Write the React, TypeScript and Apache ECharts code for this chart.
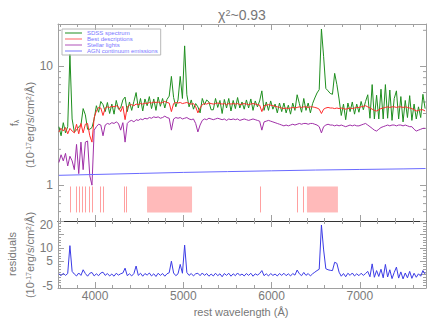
import React, { useEffect, useRef } from "react";
import * as echarts from "echarts";

// ---------- data ----------
const chartTitle = "χ²~0.93";
const waveStart = 3590;
const waveStep = 25;

const sdssFlux = [
  3.1, 2.6, 3.35, 2.75, 3.1, 12.5, 3.6, 2.8, 2.9, 3.1,
  3.2, 4.4, 3.9, 2.95, 2.95, 3.05, 3.6, 4.65, 4.1, 5.05,
  4.75, 4.15, 4.95, 4.0, 4.8, 3.95, 5.15, 4.35, 4.45, 5.2,
  5.5, 4.15, 5.0, 4.25, 5.05, 6.0, 4.45, 5.35, 4.2, 5.3,
  4.65, 5.55, 4.4, 5.3, 4.25, 5.5, 4.6, 5.35, 4.45, 5.25,
  5.6, 8.2, 5.45, 4.55, 5.2, 8.2, 5.35, 14.8, 5.75, 4.55,
  5.2, 4.35, 4.85, 4.55, 4.05, 5.35, 4.75, 5.2, 5.0, 4.3,
  4.3, 5.35, 4.5, 5.15, 4.0, 5.25, 4.45, 5.35, 4.2, 5.15,
  4.4, 5.45, 4.45, 5.0, 4.35, 5.2, 4.45, 5.3, 4.25, 5.1,
  4.55, 5.1, 6.2, 4.25, 5.0, 4.25, 5.1, 4.35, 4.8, 4.05,
  4.9, 4.15, 4.9, 4.05, 4.7, 3.95, 4.9, 4.25, 5.75, 4.85,
  4.1, 5.35, 4.25, 4.9, 4.05, 4.85, 5.4, 5.95, 6.35, 20.5,
  12.0, 6.5, 6.2, 5.9, 5.8, 8.7, 7.0, 5.3, 3.85, 4.8,
  3.55, 4.9, 4.15, 5.0, 3.95, 4.8, 4.1, 5.05, 4.3, 5.05,
  5.75, 3.65, 7.0, 3.6, 5.7, 3.6, 6.4, 3.6, 7.0, 3.65,
  6.3, 3.5, 5.35, 6.2, 3.6, 5.55, 3.4, 5.15, 3.7, 5.65,
  3.5, 4.8, 3.6, 4.55, 3.7, 5.8, 4.4,
];

const modelFlux = [
  2.8, 3.0, 2.85, 3.05, 2.7, 3.0, 2.85, 2.75, 3.25, 2.7,
  3.3, 2.75, 3.25, 3.3, 2.6, 2.3, 3.7, 4.2, 4.5, 4.45,
  3.85, 4.45, 4.55, 4.5, 4.6, 4.55, 4.65, 4.55, 4.15, 4.6,
  3.55, 4.55, 4.7, 4.75, 4.65, 4.8, 4.75, 4.85, 4.8, 4.9,
  4.85, 4.95, 4.9, 5.0, 4.95, 5.0, 4.9, 4.95, 5.05, 4.95,
  4.9, 4.15, 4.85, 4.95, 4.9, 4.95, 4.85, 4.9, 4.95, 4.85,
  4.8, 4.85, 4.55, 4.05, 4.45, 4.75, 4.85, 4.8, 4.9, 4.85,
  4.8, 4.85, 4.9, 4.85, 4.8, 4.85, 4.75, 4.85, 4.8, 4.85,
  4.8, 4.85, 4.75, 4.8, 4.85, 4.8, 4.75, 4.8, 4.85, 4.8,
  4.75, 4.7, 4.15, 4.65, 4.7, 4.75, 4.7, 4.65, 4.6, 4.55,
  4.5, 4.45, 4.4, 4.45, 4.4, 4.45, 4.5, 4.45, 4.5, 4.55,
  4.5, 4.55, 4.55, 4.5, 4.55, 4.55, 4.5, 4.45, 4.35, 4.0,
  4.35, 4.45, 4.5, 4.45, 4.45, 4.4, 4.45, 4.4, 4.45, 4.4,
  4.35, 4.4, 4.45, 4.4, 4.45, 4.5, 4.5, 4.55, 4.6, 4.65,
  4.55, 4.45, 4.35, 4.25, 4.2, 4.3, 4.4, 4.45, 4.5, 4.55,
  4.5, 4.55, 4.55, 4.5, 4.55, 4.55, 4.5, 4.55, 4.5, 4.45,
  4.4, 4.3, 4.2, 4.25, 4.3, 4.3, 4.2,
];

const stellarFlux = [
  1.55, 1.8, 1.6, 1.85, 1.45, 1.75, 1.6, 1.35, 2.2, 1.25,
  2.3, 1.35, 2.3, 2.35, 1.2, 1.0, 2.9, 3.1, 3.25, 3.2,
  2.6, 3.2, 3.3, 3.25, 3.35, 3.3, 3.4, 3.3, 2.9, 3.35,
  2.3, 3.3, 3.45, 3.5, 3.4, 3.55, 3.5, 3.6, 3.55, 3.65,
  3.6, 3.7, 3.65, 3.75, 3.7, 3.75, 3.65, 3.7, 3.8, 3.7,
  3.65, 2.9, 3.6, 3.7, 3.65, 3.7, 3.6, 3.65, 3.7, 3.6,
  3.55, 3.6, 3.3, 2.8, 3.2, 3.5, 3.6, 3.55, 3.65, 3.6,
  3.55, 3.6, 3.65, 3.6, 3.55, 3.6, 3.5, 3.6, 3.55, 3.6,
  3.55, 3.6, 3.5, 3.55, 3.6, 3.55, 3.5, 3.55, 3.6, 3.55,
  3.5, 3.45, 2.9, 3.4, 3.45, 3.5, 3.45, 3.4, 3.35, 3.3,
  3.25, 3.2, 3.15, 3.2, 3.15, 3.2, 3.25, 3.2, 3.25, 3.3,
  3.25, 3.3, 3.3, 3.25, 3.3, 3.3, 3.25, 3.2, 3.1, 2.75,
  3.1, 3.2, 3.25, 3.2, 3.2, 3.15, 3.2, 3.15, 3.2, 3.15,
  3.1, 3.15, 3.2, 3.15, 3.2, 3.15, 3.15, 3.2, 3.25, 3.3,
  3.2, 3.1, 3.0, 2.9, 2.85, 2.95, 3.05, 3.1, 3.15, 3.2,
  3.15, 3.2, 3.2, 3.15, 3.2, 3.2, 3.15, 3.2, 3.15, 3.1,
  3.1, 2.95, 2.85, 2.9, 2.95, 3.0, 3.0,
];

const agnWave = [3590, 4000, 4500, 5000, 5500, 6000, 6500, 7000, 7500, 7745];
const agnFlux = [1.21, 1.23, 1.255, 1.28, 1.3, 1.32, 1.34, 1.355, 1.37, 1.38];

const residuals = [
  0.3, -0.4, 0.5, -0.3, 0.4, 10.8, 1.2, 0.2, -0.5, 0.6,
  -0.3, 1.8, 0.4, -0.6, 0.5, 0.8, -0.5, 0.3, -0.4, 0.6,
  0.9, -0.3, 0.4, -0.5, 0.2, -0.6, 0.5, -0.2, 0.3, 0.6,
  2.4, -0.4, 0.3, -0.5, 0.4, 3.2, -0.3, 0.5, -0.6, 0.4,
  -0.2, 0.6, -0.5, 0.3, -0.7, 0.5, -0.3, 0.4, -0.6, 0.3,
  0.7, 5.0, 0.6, -0.4, 0.3, 3.8, 0.5, 11.0, 0.8, -0.3,
  0.4, -0.5, 0.3, 0.5, -0.4, 0.6, -0.3, 0.4, -0.6, 0.2,
  -0.5, 0.5, -0.4, 0.3, -0.8, 0.4, -0.3, 0.5, -0.6, 0.3,
  -0.4, 0.6, -0.3, 0.2, -0.5, 0.4, -0.3, 0.5, -0.6, 0.3,
  -0.2, 0.4, 1.5, -0.4, 0.3, -0.5, 0.4, -0.3, 0.2, -0.5,
  0.4, -0.3, 0.5, -0.4, 0.3, -0.5, 0.4, -0.2, 1.7, 0.3,
  -0.4, 0.8, -0.3, 0.4, -0.5, 0.3, 0.9, 1.5, 2.0, 18.5,
  9.2, 2.2, 1.8, 1.6, 1.5, 4.6, 4.2, 0.9, -0.6, 0.4,
  -0.8, 0.5, -0.3, 0.6, -0.5, 0.3, -0.4, 0.5, -0.3, 0.4,
  1.2, -0.8, 4.0, -1.0, 1.5, -0.7, 2.0, -1.2, 3.8, -0.9,
  1.8, -1.5, 0.8, 2.8, -1.3, 1.0, -1.6, 0.6, -1.2, 1.2,
  -1.4, 0.5, -1.0, 0.3, -0.6, 1.5, 0.2,
];

const maskLines = [3720, 3788, 3819, 3853, 3890, 3929, 3963, 4060, 4094, 4332, 4354, 5872, 6296, 6364];
const maskBands = [
  [4589, 5099],
  [6401, 6752],
];
const maskRange = [0.59, 0.975];

const xRange = [3580, 7750];
const fluxRange = [0.5, 22.6];
const residRange = [-5, 20];
const xMajorTicks = [4000, 5000, 6000, 7000];
const xMinorTicks = [3600, 3800, 4200, 4400, 4600, 4800, 5200, 5400, 5600, 5800, 6200, 6400, 6600, 6800, 7200, 7400, 7600];
const logMinorTicks = [0.6, 0.7, 0.8, 0.9, 2, 3, 4, 5, 6, 7, 8, 9, 20];

const legendNames = ["SDSS spectrum", "Best descriptions", "Stellar lights", "AGN continuum emissions"];

// ---------- styles ----------
const FONT = "'Liberation Sans', 'DejaVu Sans', Arial, sans-serif";
const frameGray = "#a0a0a0";
const darkLine = "#333333";
const labelGray = "#7a7a7a";

const toPairs = (vals: number[]) => vals.map((v, i) => [waveStart + i * waveStep, v]);

function mkX(gridIndex: number, position: string, ticks: number[], length: number, opts: any = {}) {
  return {
    type: "value",
    gridIndex,
    position,
    min: xRange[0],
    max: xRange[1],
    axisLine: { show: opts.line !== false, onZero: false, lineStyle: { color: opts.lineColor || frameGray, width: 1 } },
    axisTick: { show: true, inside: true, length, customValues: ticks, lineStyle: { color: frameGray, width: 1 } },
    axisLabel: opts.labels
      ? {
          show: true,
          customValues: xMajorTicks,
          margin: 2,
          color: labelGray,
          fontSize: 12,
          fontFamily: FONT,
          formatter: (v: number) => String(Math.round(v)),
        }
      : { show: false },
    splitLine: { show: false },
    minorTick: { show: false },
  };
}

export default function App() {
  const ref = useRef<HTMLDivElement>(null);

  useEffect(() => {
    document.body.style.margin = "0";
    if (!ref.current) return;
    const chart = echarts.init(ref.current, undefined, { renderer: "svg" });

    const maskLineData = maskLines.map((x) => [
      { coord: [x, maskRange[0]] },
      { coord: [x, maskRange[1]] },
    ]);
    const maskAreaData = maskBands.map((b) => [
      { coord: [b[0], maskRange[0]] },
      { coord: [b[1], maskRange[1]] },
    ]);

    const option: any = {
      animation: false,
      backgroundColor: "#ffffff",
      grid: [
        { left: 58, top: 24, width: 368, height: 197, outerBoundsMode: "none", containLabel: false },
        { left: 58, top: 221, width: 368, height: 67, outerBoundsMode: "none", containLabel: false },
      ],
      legend: {
        show: true,
        data: legendNames,
        orient: "vertical",
        left: 62,
        top: 29,
        icon: "rect",
        itemWidth: 17,
        itemHeight: 1,
        itemGap: 0,
        padding: [1, 3, 1, 3],
        borderColor: "#b8b8b8",
        borderWidth: 1,
        selectedMode: false,
        textStyle: { fontSize: 6, lineHeight: 5.2, color: "#7878ff", fontFamily: FONT, padding: [0, 0, 0, 0] },
      },
      xAxis: [
        mkX(0, "bottom", xMajorTicks, 6, { lineColor: darkLine }),
        mkX(0, "top", xMajorTicks, 6),
        mkX(0, "bottom", xMinorTicks, 3, { line: false }),
        mkX(0, "top", xMinorTicks, 3, { line: false }),
        mkX(1, "bottom", xMajorTicks, 6, { labels: true }),
        mkX(1, "top", xMajorTicks, 6, { lineColor: darkLine }),
        mkX(1, "bottom", xMinorTicks, 3, { line: false }),
        mkX(1, "top", xMinorTicks, 3, { line: false }),
      ],
      yAxis: [
        {
          type: "log",
          logBase: 10,
          gridIndex: 0,
          position: "left",
          min: fluxRange[0],
          max: fluxRange[1],
          axisLine: { show: true, onZero: false, lineStyle: { color: frameGray } },
          axisTick: { show: true, inside: true, length: 6, lineStyle: { color: frameGray } },
          axisLabel: {
            show: true,
            showMinLabel: false,
            showMaxLabel: false,
            margin: 5,
            color: labelGray,
            fontSize: 12,
            fontFamily: FONT,
          },
          splitLine: { show: false },
        },
        {
          type: "log",
          logBase: 10,
          gridIndex: 0,
          position: "right",
          min: fluxRange[0],
          max: fluxRange[1],
          axisLine: { show: true, onZero: false, lineStyle: { color: frameGray } },
          axisTick: { show: true, inside: true, length: 6, lineStyle: { color: frameGray } },
          axisLabel: { show: false },
          splitLine: { show: false },
        },
        {
          type: "value",
          gridIndex: 1,
          position: "left",
          min: residRange[0],
          max: residRange[1],
          interval: 5,
          axisLine: { show: true, onZero: false, lineStyle: { color: frameGray } },
          axisTick: { show: true, inside: true, length: 6, lineStyle: { color: frameGray } },
          minorTick: { show: true, splitNumber: 5, length: 3, lineStyle: { color: frameGray } },
          axisLabel: {
            show: true,
            showMinLabel: true,
            showMaxLabel: true,
            hideOverlap: false,
            margin: 5,
            color: labelGray,
            fontSize: 12,
            fontFamily: FONT,
            formatter: (v: number) =>
              v === residRange[1] ? "{dn|" + v + "}" : v === residRange[0] ? "{up|" + v + "}" : String(v),
            rich: {
              dn: { padding: [7, 0, 0, 0], fontSize: 12, fontFamily: FONT, color: labelGray },
              up: { padding: [0, 0, 5, 0], fontSize: 12, fontFamily: FONT, color: labelGray },
            },
          },
          splitLine: { show: false },
        },
        {
          type: "value",
          gridIndex: 1,
          position: "right",
          min: residRange[0],
          max: residRange[1],
          interval: 5,
          axisLine: { show: true, onZero: false, lineStyle: { color: frameGray } },
          axisTick: { show: true, inside: true, length: 6, lineStyle: { color: frameGray } },
          minorTick: { show: true, splitNumber: 5, length: 3, lineStyle: { color: frameGray } },
          axisLabel: { show: false },
          splitLine: { show: false },
        },
      ],
      series: [
        {
          name: legendNames[0],
          type: "line",
          xAxisIndex: 0,
          yAxisIndex: 0,
          data: toPairs(sdssFlux),
          showSymbol: false,
          symbol: "none",
          lineStyle: { color: "#1f8f1f", width: 1 },
          itemStyle: { color: "#1f8f1f" },
          silent: true,
        },
        {
          name: legendNames[1],
          type: "line",
          xAxisIndex: 0,
          yAxisIndex: 0,
          data: toPairs(modelFlux),
          showSymbol: false,
          symbol: "none",
          lineStyle: { color: "#ff2b2b", width: 1 },
          itemStyle: { color: "#ff6060" },
          silent: true,
        },
        {
          name: legendNames[2],
          type: "line",
          xAxisIndex: 0,
          yAxisIndex: 0,
          data: toPairs(stellarFlux),
          showSymbol: false,
          symbol: "none",
          lineStyle: { color: "#a030a8", width: 1 },
          itemStyle: { color: "#b050b8" },
          silent: true,
        },
        {
          name: legendNames[3],
          type: "line",
          xAxisIndex: 0,
          yAxisIndex: 0,
          data: agnWave.map((w, i) => [w, agnFlux[i]]),
          showSymbol: false,
          symbol: "none",
          lineStyle: { color: "#6a6aff", width: 1 },
          itemStyle: { color: "#7a7aff" },
          silent: true,
          markLine: {
            silent: true,
            symbol: "none",
            label: { show: false },
            lineStyle: { color: "#ffa0a0", width: 1, type: "solid" },
            emphasis: { disabled: true },
            data: maskLineData,
          },
          markArea: {
            silent: true,
            label: { show: false },
            itemStyle: { color: "#ffbaba", opacity: 1 },
            emphasis: { disabled: true },
            data: maskAreaData,
          },
        },
        {
          type: "custom",
          xAxisIndex: 0,
          yAxisIndex: 0,
          silent: true,
          data: logMinorTicks.map((v) => [xRange[0], v]),
          renderItem: (params: any, api: any) => {
            const v = api.value(1);
            const l = api.coord([xRange[0], v]);
            const r = api.coord([xRange[1], v]);
            const st = { stroke: frameGray, lineWidth: 1 };
            return {
              type: "group",
              children: [
                { type: "line", shape: { x1: l[0], y1: l[1], x2: l[0] + 3, y2: l[1] }, style: st },
                { type: "line", shape: { x1: r[0] - 3, y1: r[1], x2: r[0], y2: r[1] }, style: st },
              ],
            };
          },
        },
        {
          name: "residuals",
          type: "line",
          xAxisIndex: 4,
          yAxisIndex: 2,
          data: toPairs(residuals),
          showSymbol: false,
          symbol: "none",
          lineStyle: { color: "#3b3be6", width: 1 },
          silent: true,
        },
      ],
      graphic: [
        {
          type: "text",
          x: 242,
          y: 15,
          style: {
            text: "{a|χ}{s|2}{a|~0.93}",
            align: "center",
            verticalAlign: "middle",
            fill: "#777",
            rich: {
              a: { fontSize: 14, fontFamily: FONT, fill: "#777", verticalAlign: "bottom" },
              s: { fontSize: 9, fontFamily: FONT, fill: "#777", verticalAlign: "top" },
            },
          },
        },
        {
          type: "text",
          x: 14,
          y: 123,
          rotation: Math.PI / 2,
          style: {
            text: "{a|f}{b|λ}",
            align: "center",
            verticalAlign: "middle",
            fill: "#777",
            rich: {
              a: { fontSize: 11, fontFamily: FONT, fill: "#777", verticalAlign: "top" },
              b: { fontSize: 7, fontFamily: FONT, fill: "#777", verticalAlign: "bottom" },
            },
          },
        },
        {
          type: "text",
          x: 30,
          y: 125,
          rotation: Math.PI / 2,
          style: {
            text: "{a|(10}{s|-17}{a|erg/s/cm}{s|2}{a|/Å)}",
            align: "center",
            verticalAlign: "middle",
            fill: "#777",
            rich: {
              a: { fontSize: 11, fontFamily: FONT, fill: "#777", verticalAlign: "bottom" },
              s: { fontSize: 7, fontFamily: FONT, fill: "#777", verticalAlign: "top" },
            },
          },
        },
        {
          type: "text",
          x: 12,
          y: 254,
          rotation: Math.PI / 2,
          style: {
            text: "residuals",
            align: "center",
            verticalAlign: "middle",
            fill: "#777",
            fontSize: 11,
            fontFamily: FONT,
          },
        },
        {
          type: "text",
          x: 30,
          y: 255,
          rotation: Math.PI / 2,
          style: {
            text: "{a|(10}{s|-17}{a|erg/s/cm}{s|2}{a|/Å)}",
            align: "center",
            verticalAlign: "middle",
            fill: "#777",
            rich: {
              a: { fontSize: 11, fontFamily: FONT, fill: "#777", verticalAlign: "bottom" },
              s: { fontSize: 7, fontFamily: FONT, fill: "#777", verticalAlign: "top" },
            },
          },
        },
        {
          type: "text",
          x: 241,
          y: 312,
          style: {
            text: "rest wavelength (Å)",
            align: "center",
            verticalAlign: "middle",
            fill: "#777",
            fontSize: 11,
            fontFamily: FONT,
          },
        },
      ],
    };

    chart.setOption(option);
    return () => chart.dispose();
  }, []);

  return <div ref={ref} style={{ width: 436, height: 327 }} />;
}
